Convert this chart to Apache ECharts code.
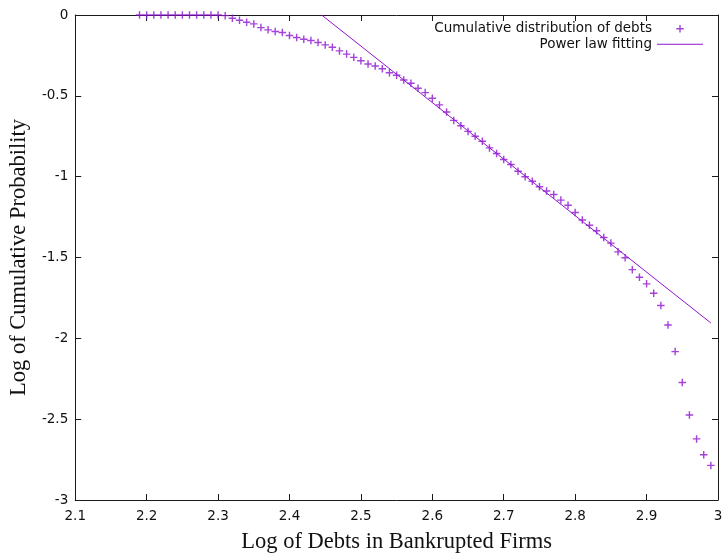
<!DOCTYPE html>
<html>
<head>
<meta charset="utf-8">
<script src="https://cdn.jsdelivr.net/npm/echarts@6/dist/echarts.min.js"></script>
<style>
  html, body { margin: 0; padding: 0; background: #ffffff; }
  #chart { width: 727px; height: 559px; }
</style>
</head>
<body>
<div id="chart"></div>
<script>
// log10 of debt size (x) for each observation
const debtLog = [
  2.19, 2.20, 2.21, 2.22, 2.23, 2.24, 2.25, 2.26, 2.27, 2.28,
  2.29, 2.30, 2.31, 2.32, 2.33, 2.34, 2.35, 2.36, 2.37, 2.38,
  2.39, 2.40, 2.41, 2.42, 2.43, 2.44, 2.45, 2.46, 2.47, 2.48,
  2.49, 2.50, 2.51, 2.52, 2.53, 2.54, 2.55, 2.56, 2.57, 2.58,
  2.59, 2.60, 2.61, 2.62, 2.63, 2.64, 2.65, 2.66, 2.67, 2.68,
  2.69, 2.70, 2.71, 2.72, 2.73, 2.74, 2.75, 2.76, 2.77, 2.78,
  2.79, 2.80, 2.81, 2.82, 2.83, 2.84, 2.85, 2.86, 2.87, 2.88,
  2.89, 2.90, 2.91, 2.92, 2.93, 2.94, 2.95, 2.96, 2.97, 2.98,
  2.99
];

// log10 of cumulative probability P(X >= x)
const cumProbLog = [
   0.000,  0.000,  0.000,  0.000,  0.000,  0.000,  0.000,  0.000,  0.000,  0.000,
   0.000,  0.000, -0.004, -0.020, -0.033, -0.045, -0.055, -0.078, -0.092, -0.102,
  -0.108, -0.127, -0.139, -0.150, -0.158, -0.170, -0.185, -0.199, -0.222, -0.242,
  -0.262, -0.283, -0.303, -0.316, -0.332, -0.357, -0.373, -0.402, -0.422, -0.453,
  -0.480, -0.515, -0.556, -0.600, -0.652, -0.685, -0.720, -0.750, -0.781, -0.822,
  -0.857, -0.894, -0.925, -0.966, -1.001, -1.028, -1.062, -1.089, -1.110, -1.145,
  -1.177, -1.222, -1.268, -1.300, -1.335, -1.376, -1.411, -1.465, -1.502, -1.575,
  -1.622, -1.663, -1.721, -1.797, -1.918, -2.082, -2.273, -2.474, -2.622, -2.720,
  -2.786
];

// end points of the fitted power-law line (straight in log-log space)
const fitDebtLog = [2.445, 2.99];
const fitProbLog = [0.0, -1.905];

const seriesNames = ['Cumulative distribution of debts', 'Power law fitting'];
const xRange = [2.1, 3.0];
const xStep = 0.1;
const yRange = [-3, 0];
const yStep = 0.5;

const purple = '#8f14cf';
const ink = '#1a1a1a';
const plusIcon = 'path://M0,4.05H10V5.95H0Z M4.05,0H5.95V10H4.05Z';
const lineIcon = 'path://M0,0H46V1H0Z';

const tickFmt = v => String(+v.toFixed(2));

function frameAxis(opts) {
  return Object.assign({
    type: 'value',
    splitLine: { show: false },
    axisLine: { show: true, onZero: false, lineStyle: { color: ink, width: 1 } },
    axisTick: { show: true, inside: true, length: 6, lineStyle: { color: ink, width: 1 } }
  }, opts);
}

const chart = echarts.init(document.getElementById('chart'), null, { renderer: 'canvas' });

chart.setOption({
  backgroundColor: '#ffffff',
  animation: false,
  grid: { left: 75, right: 9, top: 15, bottom: 57, containLabel: false },
  legend: {
    orient: 'vertical',
    align: 'right',
    right: 24,
    top: 21,
    padding: 0,
    itemGap: 0,
    itemWidth: 46,
    itemHeight: 7.5,
    selectedMode: false,
    textStyle: { fontFamily: 'DejaVu Sans', fontSize: 13.5, lineHeight: 15.5, color: '#111' },
    data: [
      { name: seriesNames[0], icon: plusIcon, itemStyle: { color: purple } },
      { name: seriesNames[1], icon: lineIcon, itemStyle: { color: purple } }
    ]
  },
  xAxis: [
    frameAxis({
      position: 'bottom',
      min: xRange[0], max: xRange[1], interval: xStep,
      axisLabel: { margin: 9, fontFamily: 'DejaVu Sans', fontSize: 13.5, color: '#111',
                   showMinLabel: true, showMaxLabel: true, formatter: tickFmt },
      name: 'Log of Debts in Bankrupted Firms',
      nameLocation: 'middle',
      nameGap: 31,
      nameTextStyle: { fontFamily: 'Liberation Serif', fontSize: 22.5, color: '#111' }
    }),
    frameAxis({
      position: 'top',
      min: xRange[0], max: xRange[1], interval: xStep,
      axisLabel: { show: false }
    })
  ],
  yAxis: [
    frameAxis({
      position: 'left',
      min: yRange[0], max: yRange[1], interval: yStep,
      axisLabel: { margin: 7, fontFamily: 'DejaVu Sans', fontSize: 13.5, color: '#111',
                   showMinLabel: true, showMaxLabel: true, formatter: tickFmt },
      name: 'Log of Cumulative Probability',
      nameLocation: 'middle',
      nameGap: 44,
      nameRotate: 90,
      nameTextStyle: { fontFamily: 'Liberation Serif', fontSize: 22.5, color: '#111' }
    }),
    frameAxis({
      position: 'right',
      min: yRange[0], max: yRange[1], interval: yStep,
      axisLabel: { show: false }
    })
  ],
  series: [
    {
      name: seriesNames[0],
      type: 'scatter',
      xAxisIndex: 0,
      yAxisIndex: 0,
      symbol: plusIcon,
      symbolSize: 7.5,
      itemStyle: { color: purple },
      data: debtLog.map((x, i) => [x, cumProbLog[i]])
    },
    {
      name: seriesNames[1],
      type: 'line',
      xAxisIndex: 0,
      yAxisIndex: 0,
      showSymbol: false,
      symbol: 'none',
      clip: true,
      lineStyle: { color: purple, width: 1 },
      data: fitDebtLog.map((x, i) => [x, fitProbLog[i]])
    }
  ]
});
</script>
</body>
</html>
